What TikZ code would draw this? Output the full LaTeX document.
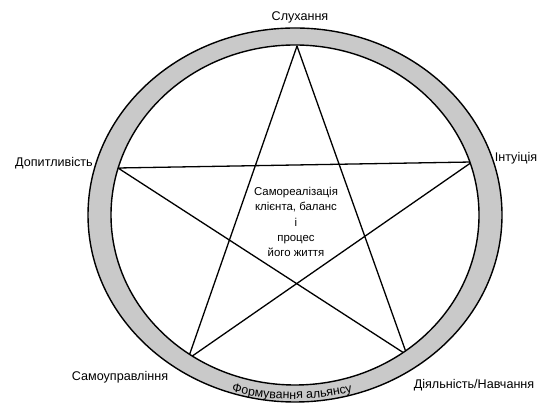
\documentclass[tikz,border=0pt]{standalone}
\usepackage{fontspec}
\setmainfont{Liberation Sans}
\usetikzlibrary{decorations.text}
\begin{document}
\begin{tikzpicture}[x=1pt,y=1pt,
  starline/.style={line width=1.3pt,black},
  ringedge/.style={line width=1.4pt,black},
  lbl/.style={font=\fontsize{12.6}{15}\selectfont,inner sep=0pt}]
\useasboundingbox (0,0) rectangle (540,403);
\coordinate (c) at (295,188);
% star vertices
\coordinate (t) at (297,357);
\coordinate (l) at (118,235);
\coordinate (r) at (472,241);
\coordinate (bl) at (188,44);
\coordinate (br) at (407,48);
\draw[starline,line join=round] (t) -- (bl) -- (r) -- (l) -- (br) -- cycle;
% ring
\path[fill=black!21,even odd rule] (c) ellipse [x radius=207,y radius=187] (c) ellipse [x radius=184,y radius=170];
\draw[ringedge] (c) ellipse [x radius=207,y radius=187];
\draw[ringedge] (c) ellipse [x radius=184,y radius=170];
% labels
\node[lbl] (slukh) at (300,386) {Слухання};
\node[lbl] (dop) at (54,240) {Допитливість};
\node[lbl] (intu) at (516,245) {Інтуіція};
\node[lbl,align=center,font=\fontsize{11.4}{15.2}\selectfont] (centr) at (296,181) {Самореалізація\\клієнта, баланс\\і\\процес\\його життя};
\node[lbl] (samo) at (120,26) {Самоуправління};
\node[lbl] (diial) at (474,18) {Діяльність/Навчання};
\coordinate (arcc) at (292,264);
\path[decorate,decoration={text along path,text align=center,
  text={|\fontsize{12.4}{15}\selectfont|Формування альянсу}}]
  ([shift={(240:260)}]arcc) arc[start angle=240,end angle=300,radius=260];
\end{tikzpicture}
\end{document}
